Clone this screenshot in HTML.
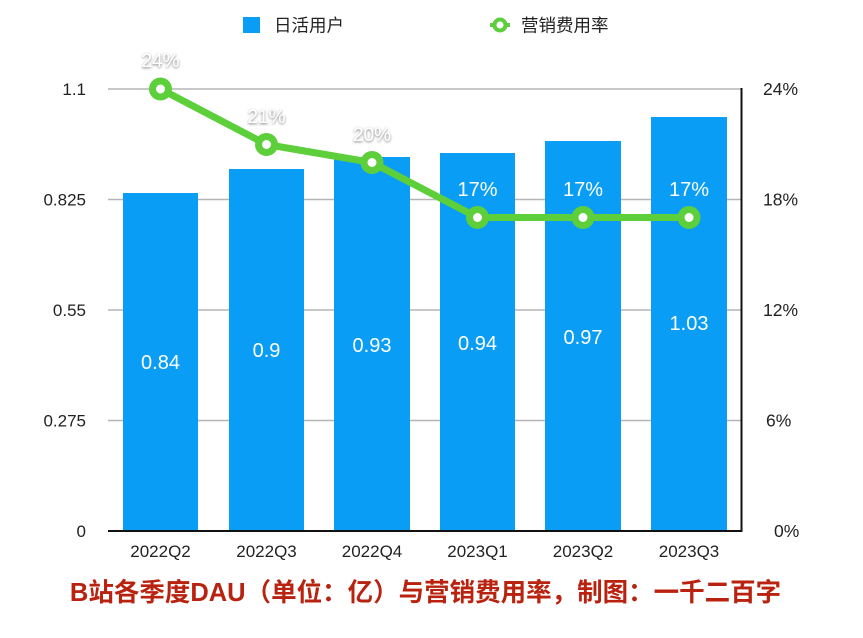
<!DOCTYPE html>
<html><head><meta charset="utf-8"><style>
html,body{margin:0;padding:0;background:#fff;}
svg{display:block;}
text{font-family:"Liberation Sans","Noto Sans CJK SC",sans-serif;}
</style></head><body>
<svg width="863" height="638" viewBox="0 0 863 638" xmlns="http://www.w3.org/2000/svg">
<defs>
<filter id="sh" x="-30%" y="-30%" width="160%" height="160%">
<feDropShadow dx="0" dy="1" stdDeviation="1.3" flood-color="#555" flood-opacity="0.8"/>
</filter>
</defs>
<!-- legend -->
<rect x="243" y="17" width="17" height="16" fill="#0a9df5"/>
<text x="274" y="31.5" font-size="17.5" fill="#222">日活用户</text>
<line x1="490" y1="25" x2="510" y2="25" stroke="#5ccf3a" stroke-width="4"/>
<circle cx="500" cy="25" r="5.5" fill="#fff" stroke="#5ccf3a" stroke-width="4"/>
<text x="521" y="31.5" font-size="17.5" fill="#222">营销费用率</text>
<!-- grid -->
<g stroke="#b5b5b5" stroke-width="1.5">
<line x1="108" y1="89" x2="741" y2="89"/>
<line x1="108" y1="199.5" x2="741" y2="199.5"/>
<line x1="108" y1="310" x2="741" y2="310"/>
<line x1="108" y1="420.5" x2="741" y2="420.5"/>
</g>
<!-- bars -->
<g fill="#0a9df5">
<rect x="123" y="193" width="75" height="338"/>
<rect x="229" y="169" width="75" height="362"/>
<rect x="334" y="157" width="76" height="374"/>
<rect x="440" y="153" width="75" height="378"/>
<rect x="545" y="141" width="76" height="390"/>
<rect x="651" y="117" width="76" height="414"/>
</g>
<!-- axes -->
<line x1="108" y1="531" x2="742" y2="531" stroke="#111" stroke-width="2"/>
<line x1="741.5" y1="88" x2="741.5" y2="532" stroke="#111" stroke-width="2"/>
<!-- left ticks -->
<g font-size="17" fill="#222" text-anchor="end">
<text x="86" y="95">1.1</text>
<text x="86" y="205.5">0.825</text>
<text x="86" y="316">0.55</text>
<text x="86" y="426.5">0.275</text>
<text x="86" y="537">0</text>
</g>
<!-- right ticks -->
<g font-size="17.5" fill="#222" text-anchor="start">
<text x="763" y="95">24%</text>
<text x="763" y="205.5">18%</text>
<text x="763" y="316">12%</text>
<text x="766" y="426.5">6%</text>
<text x="774" y="537">0%</text>
</g>
<!-- x labels -->
<g font-size="17" fill="#222" text-anchor="middle">
<text x="160.5" y="557">2022Q2</text>
<text x="266.5" y="557">2022Q3</text>
<text x="372" y="557">2022Q4</text>
<text x="477.5" y="557">2023Q1</text>
<text x="583" y="557">2023Q2</text>
<text x="689" y="557">2023Q3</text>
</g>
<!-- bar value labels -->
<g font-size="20" fill="#fff" text-anchor="middle">
<text x="160.5" y="369">0.84</text>
<text x="266.5" y="357">0.9</text>
<text x="372" y="352">0.93</text>
<text x="477.5" y="350">0.94</text>
<text x="583" y="344">0.97</text>
<text x="689" y="330">1.03</text>
</g>
<!-- line -->
<polyline points="160.5,89 266.5,144.5 372,162.5 477.5,217.5 583,217.5 689,217.5" fill="none" stroke="#5ccf3a" stroke-width="7" stroke-linejoin="round"/>
<g fill="#fff" stroke="#5ccf3a" stroke-width="7">
<circle cx="160.5" cy="89" r="8"/>
<circle cx="266.5" cy="144.5" r="8"/>
<circle cx="372" cy="162.5" r="8"/>
<circle cx="477.5" cy="217.5" r="8"/>
<circle cx="583" cy="217.5" r="8"/>
<circle cx="689" cy="217.5" r="8"/>
</g>
<g font-size="19" fill="#fff" text-anchor="middle" filter="url(#sh)">
<text x="160.5" y="67">24%</text>
<text x="266.5" y="123">21%</text>
<text x="372" y="141">20%</text>
</g>
<g font-size="20" fill="#fff" text-anchor="middle">
<text x="477.5" y="196">17%</text>
<text x="583" y="196">17%</text>
<text x="689" y="196">17%</text>
</g>
<!-- title -->
<text x="425.5" y="601" font-size="25.5" font-weight="bold" fill="#b8220e" text-anchor="middle">B站各季度DAU（单位：亿）与营销费用率，制图：一千二百字</text>
</svg>
</body></html>
